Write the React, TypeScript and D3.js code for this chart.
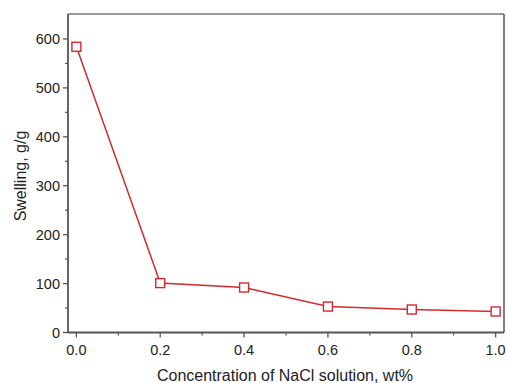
import React from "react";
import * as d3 from "d3";

const concentrations = [0.0, 0.2, 0.4, 0.6, 0.8, 1.0];
const swelling = [584, 101, 92, 53, 47, 43];
const xTicks = [0.0, 0.2, 0.4, 0.6, 0.8, 1.0];
const xMinorTicks = [0.1, 0.3, 0.5, 0.7, 0.9];
const yTicks = [0, 100, 200, 300, 400, 500, 600];
const yMinorTicks = [50, 150, 250, 350, 450, 550];

const W = 507;
const H = 383;
const left = 68, right = 504, top = 14, bottom = 332.5;
const font = "'Liberation Sans', Arial, sans-serif";
const axisColor = "#555";
const red = "#d42a2e";

export default function App() {
  const x = d3.scaleLinear().domain([-0.02, 1.02]).range([left, right]);
  const y = d3.scaleLinear().domain([0, 651]).range([bottom, top]);
  const line = d3
    .line<number>()
    .x((_, i) => x(concentrations[i]))
    .y((d) => y(d));
  return (
    <svg
      width={W}
      height={H}
      style={{ position: "fixed", left: 0, top: 0, background: "#fff" }}
    >
      <rect x={0} y={0} width={W} height={H} fill="#fff" />
      {/* frame */}
      <line x1={left} x2={right} y1={top} y2={top} stroke="#777" strokeWidth={1.5} />
      <line x1={right} x2={right} y1={top} y2={bottom} stroke="#555" strokeWidth={1.5} />
      <line x1={left} x2={left} y1={top} y2={bottom} stroke={axisColor} strokeWidth={1.8} />
      <line x1={left} x2={right} y1={bottom} y2={bottom} stroke={axisColor} strokeWidth={1.8} />
      {/* y ticks */}
      {yTicks.map((t) => (
        <g key={"y" + t}>
          <line x1={left - 5} x2={left} y1={y(t)} y2={y(t)} stroke={axisColor} strokeWidth={1.3} />
          <text
            x={left - 8}
            y={y(t)}
            textAnchor="end"
            dominantBaseline="central"
            fontFamily={font}
            fontSize={14.5}
            fill="#222"
          >
            {t}
          </text>
        </g>
      ))}
      {yMinorTicks.map((t) => (
        <line key={"ym" + t} x1={left - 3} x2={left} y1={y(t)} y2={y(t)} stroke={axisColor} strokeWidth={1.2} />
      ))}
      {/* x ticks */}
      {xTicks.map((t) => (
        <g key={"x" + t}>
          <line x1={x(t)} x2={x(t)} y1={bottom} y2={bottom + 5} stroke={axisColor} strokeWidth={1.3} />
          <text
            x={x(t)}
            y={bottom + 17}
            textAnchor="middle"
            dominantBaseline="central"
            fontFamily={font}
            fontSize={14.5}
            fill="#222"
          >
            {t.toFixed(1)}
          </text>
        </g>
      ))}
      {xMinorTicks.map((t) => (
        <line key={"xm" + t} x1={x(t)} x2={x(t)} y1={bottom} y2={bottom + 3} stroke={axisColor} strokeWidth={1.2} />
      ))}
      {/* titles */}
      <text
        x={285}
        y={375}
        textAnchor="middle"
        dominantBaseline="central"
        fontFamily={font}
        fontSize={16}
        fill="#222"
      >
        Concentration of NaCl solution, wt%
      </text>
      <text
        transform={`translate(20,176) rotate(-90)`}
        textAnchor="middle"
        dominantBaseline="central"
        fontFamily={font}
        fontSize={16}
        fill="#222"
      >
        Swelling, g/g
      </text>
      {/* data */}
      <path d={line(swelling) || ""} fill="none" stroke={red} strokeWidth={1.5} />
      {swelling.map((v, i) => (
        <rect
          key={"p" + i}
          x={x(concentrations[i]) - 4.5}
          y={y(v) - 4.5}
          width={9}
          height={9}
          fill="#fff"
          stroke={red}
          strokeWidth={1.4}
        />
      ))}
    </svg>
  );
}
